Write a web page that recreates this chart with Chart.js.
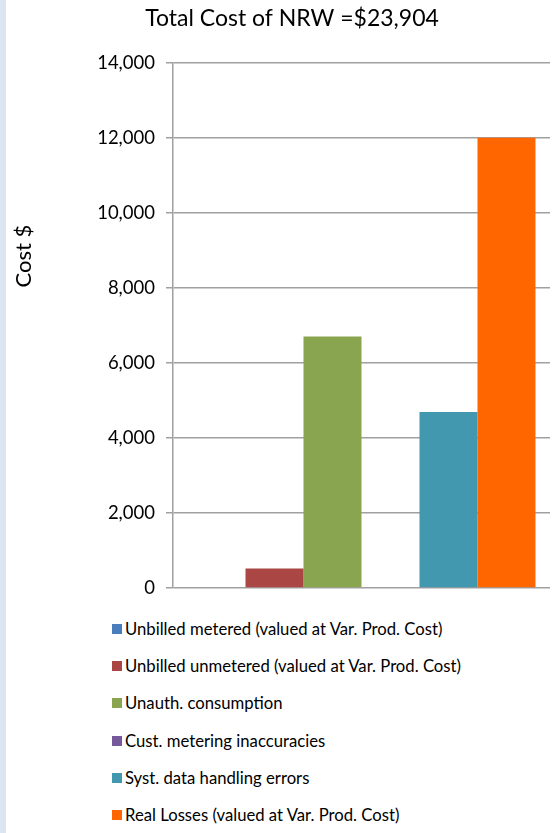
<!DOCTYPE html>
<html>
<head>
<meta charset="utf-8">
<script src="https://cdn.jsdelivr.net/npm/chart.js@4/dist/chart.umd.min.js"></script>
<style>
  html, body { margin: 0; padding: 0; background: #ffffff; }
  body { width: 560px; height: 833px; position: relative; overflow: hidden; font-family: Lato, "Liberation Sans", sans-serif; }
  #strip { position: absolute; left: 0; top: 0; width: 6px; height: 833px; background: #dce6f2; }
  #wrap { position: absolute; left: 0; top: 0; width: 560px; height: 610px; }
  #legend { position: absolute; left: 112px; top: 610px; }
  .item { height: 37.3px; display: flex; align-items: center; font-size: 16.7px; color: #000; white-space: nowrap; }
  .box { width: 10px; height: 10px; margin-right: 3px; flex: none; }
</style>
</head>
<body>
<div id="strip"></div>
<div id="wrap"><canvas id="c"></canvas></div>
<div id="legend"></div>
<script>
const categories = [""];
const seriesNames = [
  "Unbilled metered (valued at Var. Prod. Cost)",
  "Unbilled unmetered (valued at Var. Prod. Cost)",
  "Unauth. consumption",
  "Cust. metering inaccuracies",
  "Syst. data handling errors",
  "Real Losses (valued at Var. Prod. Cost)"
];
const seriesValues = [0, 520, 6700, 0, 4690, 11994];
const seriesColors = ["#4a7ebb", "#aa4643", "#8aa54f", "#75599b", "#4198af", "#ff6600"];
const yTicks = [0, 2000, 4000, 6000, 8000, 10000, 12000, 14000];
const titleText = "Total Cost of NRW =$23,904";
const yAxisTitle = "Cost $";

const FONT = "Lato";

const datasets = seriesNames.map((name, i) => ({
  label: name,
  data: [seriesValues[i]],
  backgroundColor: seriesColors[i],
  borderWidth: 0,
  categoryPercentage: 0.923,
  barPercentage: 1.0
}));

// y-axis title drawn at the position seen in the reference (not centred on the plot)
const yTitlePlugin = {
  id: "yTitle",
  afterDraw(chart) {
    const ctx = chart.ctx;
    ctx.save();
    ctx.translate(24, 256);
    ctx.rotate(-Math.PI / 2);
    ctx.font = "22px " + FONT;
    ctx.fillStyle = "#000";
    ctx.textAlign = "center";
    ctx.textBaseline = "middle";
    ctx.fillText(yAxisTitle, 0, 0);
    ctx.restore();
  }
};

const chart = new Chart(document.getElementById("c"), {
  type: "bar",
  data: { labels: categories, datasets },
  plugins: [yTitlePlugin],
  options: {
    responsive: true,
    maintainAspectRatio: false,
    animation: false,
    layout: { padding: { left: 34, right: 10, top: 0, bottom: 4 } },
    plugins: {
      legend: { display: false },
      tooltip: { enabled: false },
      title: {
        display: true,
        text: titleText,
        color: "#000",
        font: { family: FONT, size: 23, weight: "normal" },
        padding: { top: 5, bottom: 30 }
      }
    },
    scales: {
      x: {
        ticks: { display: false },
        grid: { display: false, drawTicks: false },
        border: { display: false }
      },
      y: {
        min: 0,
        max: 14000,
        afterBuildTicks: (axis) => { axis.ticks = yTicks.map(v => ({ value: v })); },
        afterFit: (axis) => { axis.width = 139; },
        ticks: {
          color: "#000",
          font: { family: FONT, size: 18.5 },
          padding: 11,
          callback: (v) => Number(v).toLocaleString("en-US")
        },
        grid: { color: "#a0a0a0", lineWidth: 1.5, tickLength: 7, drawTicks: true },
        border: { display: true, color: "#a0a0a0", width: 1.5 }
      }
    }
  }
});

const legend = document.getElementById("legend");
seriesNames.forEach((name, i) => {
  const row = document.createElement("div");
  row.className = "item";
  const b = document.createElement("span");
  b.className = "box";
  b.style.background = seriesColors[i];
  const t = document.createElement("span");
  t.textContent = name;
  row.appendChild(b);
  row.appendChild(t);
  legend.appendChild(row);
});
</script>
</body>
</html>
